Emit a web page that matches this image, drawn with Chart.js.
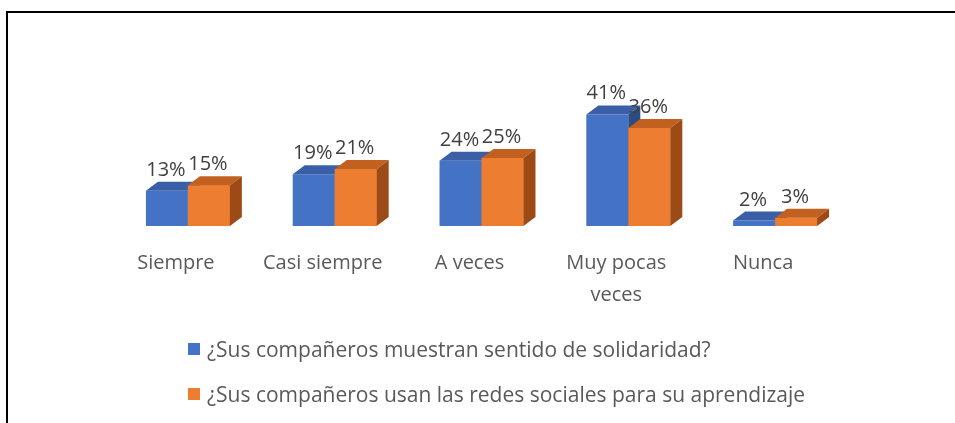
<!DOCTYPE html>
<html>
<head>
<meta charset="utf-8">
<script src="https://cdn.jsdelivr.net/npm/chart.js@4/dist/chart.umd.min.js"></script>
<style>
  html, body { margin: 0; padding: 0; background: #fff; overflow: hidden; }
  #wrap { position: relative; width: 955px; height: 423px; overflow: hidden; }
  #marco { position: absolute; left: 6px; top: 11px; width: 1100px; height: 600px; border: 2px solid #000; box-sizing: border-box; }
  #grafico { position: absolute; left: 0; top: 0; }
  #leyenda { position: absolute; left: 188px; top: 326px; font-family: 'Open Sans', sans-serif; font-size: 21px; color: #595959; }
  .fila { height: 45px; display: flex; align-items: center; white-space: nowrap; }
  .caja { width: 12px; height: 12px; margin-right: 7px; flex: none; }
</style>
</head>
<body>
<div id="wrap">
  <div id="marco"></div>
  <canvas id="grafico" width="955" height="423"></canvas>
  <div id="leyenda"></div>
</div>
<script>
const categorias = ['Siempre', 'Casi siempre', 'A veces', ['Muy pocas', 'veces'], 'Nunca'];
const solidaridad = [13, 19, 24, 41, 2];
const redesSociales = [15, 21, 25, 36, 3];
const nombres = ['¿Sus compañeros muestran sentido de solidaridad?',
                 '¿Sus compañeros usan las redes sociales para su aprendizaje'];

const azul = '#4472C4', azulTapa = '#3a5fa6', azulLado = '#2c4c86';
const naranja = '#ED7D31', naranjaTapa = '#c1601f', naranjaLado = '#9d4b16';
const fondo = 12, alto = 9; // profundidad 3D

function caras(c, b, tapa, lado) {
  const izq = b.x - b.width / 2, der = b.x + b.width / 2;
  c.fillStyle = tapa;
  c.beginPath();
  c.moveTo(izq, b.y);
  c.lineTo(izq + fondo, b.y - alto);
  c.lineTo(der + fondo, b.y - alto);
  c.lineTo(der, b.y);
  c.closePath();
  c.fill();
  c.fillStyle = lado;
  c.beginPath();
  c.moveTo(der, b.y);
  c.lineTo(der + fondo, b.y - alto);
  c.lineTo(der + fondo, b.base - alto);
  c.lineTo(der, b.base);
  c.closePath();
  c.fill();
}

// caras superior y lateral, de atras hacia adelante (azul y luego naranja)
const barras3d = {
  id: 'barras3d',
  afterDatasetsDraw(chart) {
    const c = chart.ctx;
    const m0 = chart.getDatasetMeta(0), m1 = chart.getDatasetMeta(1);
    c.save();
    m0.data.forEach(function (b, j) {
      caras(c, b, azulTapa, azulLado);
      m1.data[j].draw(c);
      caras(c, m1.data[j], naranjaTapa, naranjaLado);
    });
    c.font = '20px "Open Sans"';
    c.fillStyle = '#404040';
    c.textAlign = 'center';
    c.textBaseline = 'alphabetic';
    chart.data.datasets.forEach(function (ds, i) {
      chart.getDatasetMeta(i).data.forEach(function (b, j) {
        c.fillText(ds.data[j] + '%', b.x - 1, b.y - 15);
      });
    });
    c.restore();
  }
};

const ctx = document.getElementById('grafico');

const grafico = new Chart(ctx, {
  type: 'bar',
  data: {
    labels: categorias,
    datasets: [{
      label: nombres[0],
      data: solidaridad,
      backgroundColor: azul
    }, {
      label: nombres[1],
      data: redesSociales,
      backgroundColor: naranja
    }]
  },
  options: {
    responsive: false,
    animation: false,
    devicePixelRatio: 1,
    categoryPercentage: 0.572,
    barPercentage: 1,
    layout: {
      padding: { left: 114.5, right: 106.5, top: 90, bottom: 91 }
    },
    plugins: {
      legend: { display: false },
      tooltip: { enabled: false }
    },
    scales: {
      x: {
        grid: { display: false, drawTicks: false },
        border: { display: false },
        ticks: {
          padding: 21,
          labelOffset: -12,
          color: '#595959',
          font: { family: 'Open Sans', size: 20, lineHeight: 1.6 }
        }
      },
      y: {
        display: false,
        min: 0,
        max: 50
      }
    }
  },
  plugins: [barras3d]
});

// leyenda
const leyenda = document.getElementById('leyenda');
grafico.data.datasets.forEach(function (ds) {
  const fila = document.createElement('div');
  fila.className = 'fila';
  const caja = document.createElement('span');
  caja.className = 'caja';
  caja.style.background = ds.backgroundColor;
  const txt = document.createElement('span');
  txt.textContent = ds.label;
  fila.appendChild(caja);
  fila.appendChild(txt);
  leyenda.appendChild(fila);
});
</script>
</body>
</html>
